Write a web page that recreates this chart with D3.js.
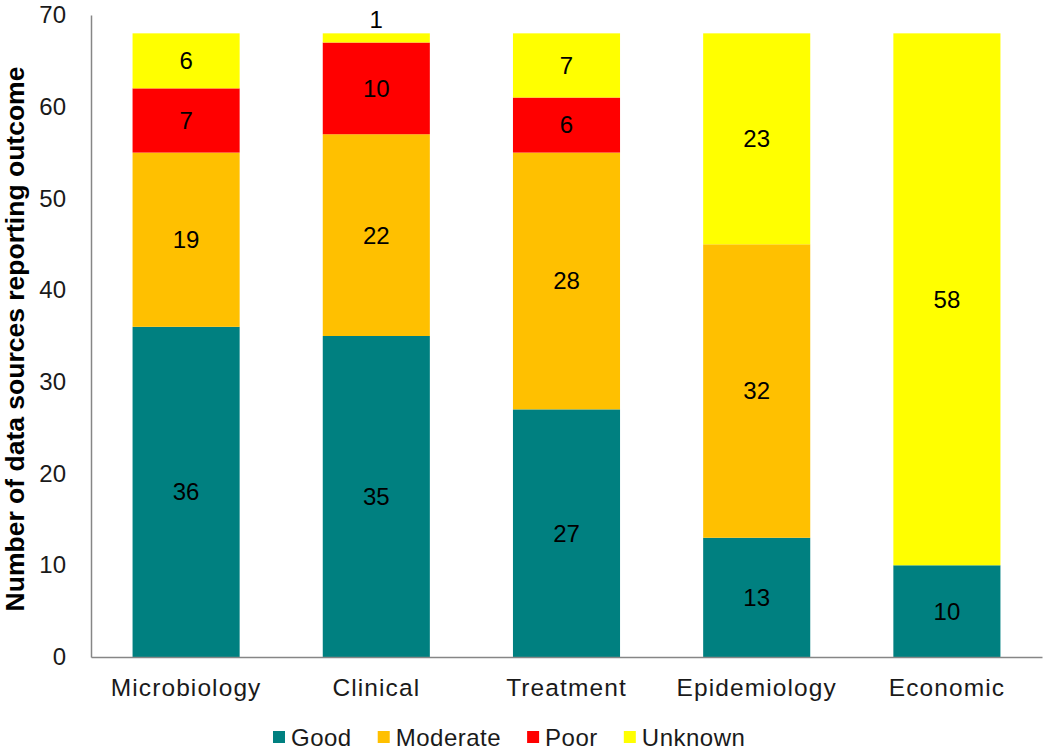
<!DOCTYPE html>
<html>
<head>
<meta charset="utf-8">
<script src="https://cdn.jsdelivr.net/npm/d3@7"></script>
<style>
  html, body { margin: 0; padding: 0; background: #fff; }
  svg { display: block; font-family: "Liberation Sans", Arial, sans-serif; }
</style>
</head>
<body>
<svg id="chart" width="1044" height="755"></svg>
<script>
const categories = ["Microbiology", "Clinical", "Treatment", "Epidemiology", "Economic"];
const seriesNames = ["Good", "Moderate", "Poor", "Unknown"];
const good     = [36, 35, 27, 13, 10];
const moderate = [19, 22, 28, 32, 0];
const poor     = [7, 10, 6, 0, 0];
const unknown  = [6, 1, 7, 23, 58];
const yTicks = [0, 10, 20, 30, 40, 50, 60, 70];
const colors = ["#008080", "#FFC000", "#FF0000", "#FFFF00"];

const seriesValues = [good, moderate, poor, unknown];
const rows = categories.map((c, i) => {
  const r = { category: c };
  seriesNames.forEach((s, j) => r[s] = seriesValues[j][i]);
  return r;
});

const svg = d3.select("#chart");
const mLeft = 91, mRight = 1042, mTop = 15, mBottom = 657;

const x = d3.scaleBand().domain(categories).range([mLeft, mRight])
  .paddingInner(0.437).paddingOuter(0.2185);
const y = d3.scaleLinear().domain([0, 70]).range([mBottom, mTop]);
const color = d3.scaleOrdinal().domain(seriesNames).range(colors);

const stacked = d3.stack().keys(seriesNames)(rows);

// bars
const layers = svg.append("g").selectAll("g").data(stacked).join("g")
  .attr("fill", d => color(d.key));
layers.selectAll("rect").data(d => d).join("rect")
  .attr("x", d => x(d.data.category))
  .attr("width", x.bandwidth())
  .attr("y", d => y(d[1]))
  .attr("height", d => y(d[0]) - y(d[1]));

// data labels
const labelG = svg.append("g").attr("font-size", 24).attr("fill", "#000").attr("text-anchor", "middle");
stacked.forEach(layer => {
  layer.forEach(d => {
    const v = d[1] - d[0];
    if (v <= 0) return;
    const h = y(d[0]) - y(d[1]);
    const cx = x(d.data.category) + x.bandwidth() / 2;
    if (h < 20) {
      labelG.append("text").attr("x", cx).attr("y", y(d[1]) - 5).text(v);
    } else {
      labelG.append("text").attr("x", cx).attr("y", (y(d[0]) + y(d[1])) / 2)
        .attr("dy", "0.35em").text(v);
    }
  });
});

// y axis
const yAxis = svg.append("g").attr("transform", `translate(${mLeft},0)`)
  .call(d3.axisLeft(y).tickValues(yTicks).tickSize(0).tickPadding(25));
yAxis.select(".domain").attr("stroke", "#868686").attr("stroke-width", 1.5);
yAxis.selectAll("text").attr("font-size", 24).attr("fill", "#1a1a1a")
  .attr("font-family", "Liberation Sans, Arial, sans-serif");

// x axis
const xAxis = svg.append("g").attr("transform", `translate(0,${mBottom})`)
  .call(d3.axisBottom(x).tickSize(0).tickPadding(22).tickSizeOuter(0));
xAxis.select(".domain").attr("stroke", "#868686").attr("stroke-width", 1.5);
xAxis.selectAll("text").attr("font-size", 24.5).attr("fill", "#1a1a1a")
  .attr("letter-spacing", "1.1px")
  .attr("font-family", "Liberation Sans, Arial, sans-serif");

// y label
svg.append("text")
  .attr("transform", `translate(24,${(mTop + mBottom) / 2 + 3}) rotate(-90)`)
  .attr("text-anchor", "middle")
  .attr("font-size", 26.5).attr("font-weight", "bold").attr("fill", "#000")
  .text("Number of data sources reporting outcome");

// legend
const legend = svg.append("g").attr("font-size", 24).attr("fill", "#1a1a1a")
  .attr("letter-spacing", "0.5px");
let lx = 273;
seriesNames.forEach(s => {
  legend.append("rect").attr("x", lx).attr("y", 731).attr("width", 12).attr("height", 12)
    .attr("fill", color(s));
  const t = legend.append("text").attr("x", lx + 18).attr("y", 746).text(s);
  lx += 18 + t.node().getComputedTextLength() + 26;
});
</script>
</body>
</html>
